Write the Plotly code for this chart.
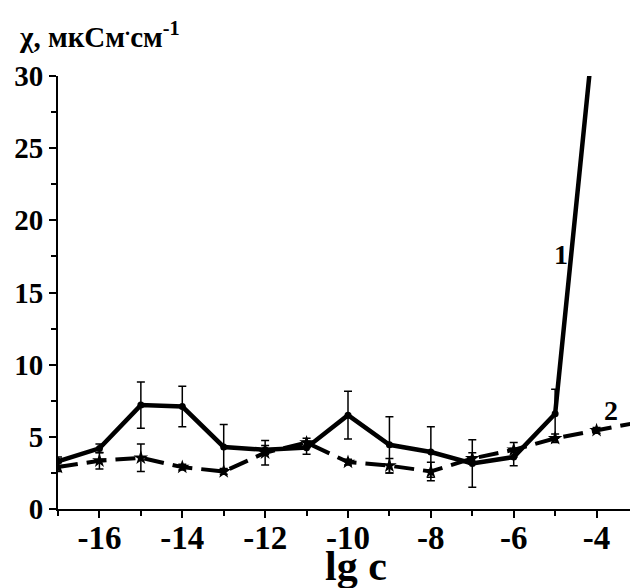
import plotly.graph_objects as go

# Series 1 (solid, circles)
x1 = [-17, -16, -15, -14, -13, -12, -11, -10, -9, -8, -7, -6, -5, -4]
y1 = [3.3, 4.2, 7.2, 7.1, 4.3, 4.1, 4.25, 6.5, 4.45, 3.95, 3.15, 3.6, 6.6, 35.0]
e1 = [0.3, 0.3, 1.6, 1.4, 1.55, 0.3, 0.45, 1.65, 1.95, 1.75, 1.65, 0.6, 1.7, 0.0]

# Series 2 (dashed, stars)
x2 = [-17, -16, -15, -14, -13, -12, -11, -10, -9, -8, -7, -6, -5, -4, -3]
y2 = [2.9, 3.35, 3.55, 2.9, 2.6, 3.9, 4.6, 3.25, 3.0, 2.6, 3.5, 4.1, 4.9, 5.45, 6.0]
e2 = [0.3, 0.57, 0.95, 0.2, 0.2, 0.85, 0.3, 0.2, 0.5, 0.64, 0.4, 0.5, 0.3, 0.2, 0.2]

xtick_vals = [-16, -14, -12, -10, -8, -6, -4]
xtick_text = ["-16", "-14", "-12", "-10", "-8", "-6", "-4"]
ytick_vals = [0, 5, 10, 15, 20, 25, 30]

FONT = "Liberation Serif, Times New Roman, serif"

# page body has an 8px default margin; figure is sized so the plot lands in place
OFF = 8
PLOT_L, PLOT_T, PLOT_B = 58, 75.5, 509
PH = PLOT_B - PLOT_T
PW = 638 - PLOT_L

fig = go.Figure()
fig.add_trace(go.Scatter(
    x=x2, y=y2, mode="lines+markers",
    line=dict(color="black", width=4, dash="20px,9px"),
    marker=dict(symbol="star", size=11, color="black"),
    error_y=dict(type="data", array=e2, color="black", thickness=1.5, width=4),
    showlegend=False,
))
fig.add_trace(go.Scatter(
    x=x1, y=y1, mode="lines+markers",
    line=dict(color="black", width=4.5),
    marker=dict(symbol="circle", size=7, color="black"),
    error_y=dict(type="data", array=e1, color="black", thickness=1.5, width=4),
    showlegend=False,
))

fig.update_layout(
    width=638 - OFF, height=588 - OFF,
    margin=dict(l=PLOT_L - OFF, r=0, t=PLOT_T - OFF, b=588 - PLOT_B),
    paper_bgcolor="white", plot_bgcolor="white",
    font=dict(family=FONT, color="black"),
    xaxis=dict(
        range=[-17, -3], showgrid=False, zeroline=False,
        showline=True, linecolor="black", linewidth=2,
        ticks="outside", ticklen=7, tickwidth=1.5, tickcolor="black",
        tickvals=xtick_vals, ticktext=xtick_text,
        tickfont=dict(family=FONT, size=33, weight="bold"),
        ticklabelstandoff=-9,
        minor=dict(dtick=1, tick0=0, ticks="outside", ticklen=5, tickwidth=1.5, tickcolor="black"),
    ),
    yaxis=dict(
        range=[0, 30], showgrid=False, zeroline=False,
        showline=True, linecolor="black", linewidth=2,
        ticks="outside", ticklen=7, tickwidth=1.5, tickcolor="black",
        tickvals=ytick_vals,
        tickfont=dict(family=FONT, size=29, weight="bold"),
        minor=dict(dtick=2.5, tick0=0, ticks="outside", ticklen=5, tickwidth=1.5, tickcolor="black"),
    ),
    annotations=[
        dict(text="χ, мкСм<sup>.</sup>см<sup>-1</sup>", xref="paper", yref="paper",
             x=(17 - PLOT_L) / PW, y=(PLOT_B - 54) / PH, xanchor="left", yanchor="bottom",
             showarrow=False, font=dict(family=FONT, size=29, weight="bold")),
        dict(text="lg c", xref="paper", yref="paper",
             x=(356 - PLOT_L) / PW, y=(PLOT_B - 541) / PH, xanchor="center", yanchor="top",
             showarrow=False, font=dict(family=FONT, size=42, weight="bold")),
        dict(text="1", x=-4.85, y=17.6, showarrow=False,
             font=dict(family=FONT, size=28, weight="bold")),
        dict(text="2", x=-3.64, y=6.8, showarrow=False,
             font=dict(family=FONT, size=28, weight="bold")),
    ],
)

fig.write_html("out.html")
